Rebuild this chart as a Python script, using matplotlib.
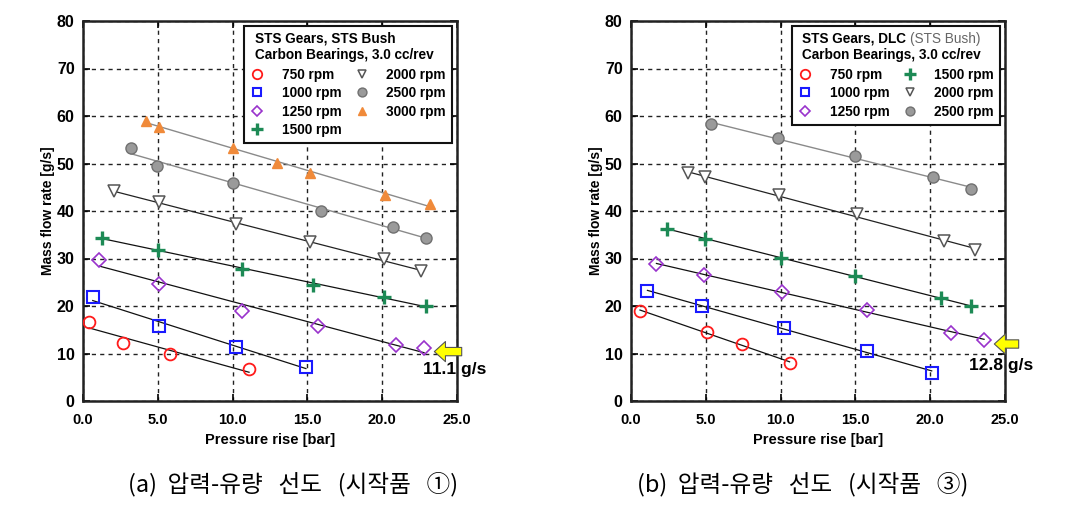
import numpy as np
import matplotlib
matplotlib.use('Agg')
import matplotlib.pyplot as plt

plt.rcParams['font.family'] = ['Liberation Sans', 'DejaVu Sans']

# ---------------- data ----------------
rpm_labels = ['750 rpm', '1000 rpm', '1250 rpm', '1500 rpm', '2000 rpm', '2500 rpm', '3000 rpm']

# Panel (a): STS Gears, STS Bush
a_750_x = [0.4, 2.7, 5.8, 11.1]
a_750_y = [16.7, 12.2, 9.9, 6.7]
a_1000_x = [0.65, 5.1, 10.2, 14.9]
a_1000_y = [21.8, 15.8, 11.4, 7.2]
a_1250_x = [1.1, 5.1, 10.6, 15.7, 20.9, 22.8]
a_1250_y = [29.7, 24.6, 18.9, 15.8, 11.8, 11.1]
a_1500_x = [1.3, 5.0, 10.6, 15.4, 20.1, 22.9]
a_1500_y = [34.4, 31.8, 27.7, 24.4, 22.0, 20.0]
a_2000_x = [2.1, 5.1, 10.2, 15.2, 20.1, 22.6]
a_2000_y = [44.2, 41.8, 37.3, 33.4, 29.8, 27.4]
a_2500_x = [3.2, 4.95, 10.0, 15.9, 20.7, 22.9]
a_2500_y = [53.2, 49.5, 45.8, 40.1, 36.7, 34.4]
a_3000_x = [4.2, 5.1, 10.0, 13.0, 15.2, 20.2, 23.2]
a_3000_y = [59.0, 57.6, 53.3, 50.2, 48.1, 43.4, 41.4]

# Panel (b): STS Gears, DLC (STS Bush)
b_750_x = [0.6, 5.1, 7.4, 10.6]
b_750_y = [18.9, 14.5, 12.1, 7.9]
b_1000_x = [1.1, 4.75, 10.2, 15.8, 20.1]
b_1000_y = [23.2, 19.9, 15.4, 10.5, 6.0]
b_1250_x = [1.7, 4.9, 10.1, 15.75, 21.4, 23.6]
b_1250_y = [28.8, 26.5, 23.0, 19.2, 14.4, 12.8]
b_1500_x = [2.4, 4.95, 10.0, 15.0, 20.7, 22.7]
b_1500_y = [36.2, 34.2, 30.2, 26.3, 21.7, 19.9]
b_2000_x = [3.8, 4.95, 9.9, 15.1, 20.9, 23.0]
b_2000_y = [47.9, 47.2, 43.4, 39.4, 33.7, 31.8]
b_2500_x = [5.35, 9.85, 15.0, 20.2, 22.7]
b_2500_y = [58.3, 55.3, 51.6, 47.1, 44.6]

x_ticks = [0, 5, 10, 15, 20, 25]
x_tick_labels = ['0.0', '5.0', '10.0', '15.0', '20.0', '25.0']
y_ticks = [0, 10, 20, 30, 40, 50, 60, 70, 80]
y_tick_labels = ['0', '10', '20', '30', '40', '50', '60', '70', '80']

a_note_value = 11.1
b_note_value = 12.8

a_title = ['STS Gears, STS Bush', '', 'Carbon Bearings, 3.0 cc/rev']
b_title = ['STS Gears, DLC', '(STS Bush)', 'Carbon Bearings, 3.0 cc/rev']

a_caption = '(a)  압력-유량   선도   (시작품   ①)'
b_caption = '(b)  압력-유량   선도   (시작품   ③)'

# ---------------- styles ----------------
styles = {
    '750 rpm':  dict(marker='o', ms=8.5, mfc='none', mec='#ff1a1a', mew=1.3, line='#111111', lw=0.9),
    '1000 rpm': dict(marker='s', ms=8, mfc='none', mec='#1a1aff', mew=1.5, line='#111111', lw=0.9),
    '1250 rpm': dict(marker='D', ms=7, mfc='none', mec='#9933cc', mew=1.2, line='#111111', lw=0.9),
    '1500 rpm': dict(marker='+', ms=10, mfc='none', mec='#1d8a55', mew=2.4, line='#111111', lw=0.9),
    '2000 rpm': dict(marker='v', ms=8, mfc='white', mec='#555555', mew=1.1, line='#222222', lw=0.9),
    '2500 rpm': dict(marker='o', ms=8, mfc='#9a9a9a', mec='#707070', mew=1.0, line='#8a8a8a', lw=1.0),
    '3000 rpm': dict(marker='^', ms=7.5, mfc='#f08a3a', mec='#f08a3a', mew=1.0, line='#8a8a8a', lw=1.0),
}

fig = plt.figure(figsize=(10.73, 5.16), dpi=100)
fig.patch.set_facecolor('white')

W, H = 1073.0, 516.0
ax_a = fig.add_axes([83 / W, 1 - 401 / H, 374 / W, 380 / H])
ax_b = fig.add_axes([631 / W, 1 - 401 / H, 374 / W, 380 / H])

LEG_FS = 9.8


def setup(ax):
    ax.set_xlim(0, 25)
    ax.set_ylim(0, 80)
    ax.set_xticks(x_ticks)
    ax.set_xticklabels(x_tick_labels)
    ax.set_yticks(y_ticks)
    ax.set_yticklabels(y_tick_labels)
    for lab in ax.get_xticklabels():
        lab.set_fontweight('bold')
        lab.set_fontsize(10.5)
    for lab in ax.get_yticklabels():
        lab.set_fontweight('bold')
        lab.set_fontsize(11.5)
    ax.tick_params(direction='in', length=5, width=1.2, top=True, right=True, pad=6)
    ax.tick_params(axis='x', pad=9)
    ax.grid(True, color='#222222', linestyle=(0, (3, 3)), linewidth=1.0)
    ax.set_axisbelow(True)
    for s in ax.spines.values():
        s.set_linewidth(1.8)
        s.set_color('#222222')
    ax.set_xlabel('Pressure rise [bar]', fontsize=10.5, fontweight='bold', labelpad=4)
    ax.set_ylabel('Mass flow rate [g/s]', fontsize=10, fontweight='bold', labelpad=1)


def plot_series(ax, xs, ys, label):
    st = styles[label]
    xs = np.asarray(xs)
    ys = np.asarray(ys)
    k, b = np.polyfit(xs, ys, 1)
    xl = np.array([xs.min(), xs.max()])
    ax.plot(xl, k * xl + b, color=st['line'], lw=st['lw'], zorder=3)
    ax.plot(xs, ys, linestyle='none', marker=st['marker'], ms=st['ms'],
            mfc=st['mfc'], mec=st['mec'], mew=st['mew'], zorder=4)
    return ax.plot([], [], linestyle='none', marker=st['marker'], ms=st['ms'] * 0.8,
                   mfc=st['mfc'], mec=st['mec'], mew=st['mew'], label=label)[0]


setup(ax_a)
setup(ax_b)

series_a = [(a_750_x, a_750_y), (a_1000_x, a_1000_y), (a_1250_x, a_1250_y),
            (a_1500_x, a_1500_y), (a_2000_x, a_2000_y), (a_2500_x, a_2500_y),
            (a_3000_x, a_3000_y)]
series_b = [(b_750_x, b_750_y), (b_1000_x, b_1000_y), (b_1250_x, b_1250_y),
            (b_1500_x, b_1500_y), (b_2000_x, b_2000_y), (b_2500_x, b_2500_y)]

handles_a = [plot_series(ax_a, x, y, lab) for (x, y), lab in zip(series_a, rpm_labels)]
handles_b = [plot_series(ax_b, x, y, lab) for (x, y), lab in zip(series_b, rpm_labels)]

leg_kw = dict(loc='upper right', ncol=2, frameon=True, fancybox=False,
              edgecolor='#111111', framealpha=1, handlelength=1.0, handletextpad=1.3,
              columnspacing=1.0, labelspacing=0.33, borderpad=0.45, borderaxespad=0.35,
              alignment='left', prop=dict(weight='bold', size=LEG_FS))

legs = []
for ax, hs in ((ax_a, handles_a), (ax_b, handles_b)):
    lg = ax.legend(handles=hs, title=' \n ', **leg_kw)
    lg.get_frame().set_linewidth(1.5)
    lg.get_title().set_fontsize(LEG_FS)
    lg.get_title().set_fontweight('bold')
    lg.get_title().set_linespacing(1.3)
    lg.set_zorder(10)
    legs.append(lg)

# Title lines of the legends drawn as separate texts (mixed styles)
fig.canvas.draw()
renderer = fig.canvas.get_renderer()
for lg, ttl in zip(legs, (a_title, b_title)):
    tb = lg.get_title().get_window_extent(renderer)
    fb = lg.get_frame().get_window_extent(renderer)
    x0 = fb.x0 + 0.45 * LEG_FS * 100 / 72 + 4
    y_top = tb.y1
    line_h = tb.height / 2.0
    t1 = fig.text(x0 / fig.bbox.width, y_top / fig.bbox.height, ttl[0], fontsize=LEG_FS,
                  fontweight='bold', va='top', ha='left', zorder=20)
    if ttl[1]:
        w1 = t1.get_window_extent(renderer).width
        sp = 0.28 * LEG_FS * 100 / 72
        fig.text((x0 + w1 + sp) / fig.bbox.width, y_top / fig.bbox.height, ttl[1],
                 fontsize=LEG_FS, color='#666666', va='top', ha='left', zorder=20)
    fig.text(x0 / fig.bbox.width, (y_top - line_h) / fig.bbox.height, ttl[2], fontsize=LEG_FS,
             fontweight='bold', va='top', ha='left', zorder=20)


def note(ax, val, y_arrow, x_tip, x_tail, x_txt, y_txt):
    ax.annotate('', xy=(x_tip, y_arrow), xytext=(x_tail, y_arrow),
                arrowprops=dict(arrowstyle='simple,head_length=0.8,head_width=1.45,tail_width=0.6',
                                fc='#ffff00', ec='#555555', lw=0.8),
                annotation_clip=False, zorder=12)
    ax.text(x_txt, y_txt, f'{val:.1f} g/s', fontsize=12.5, fontweight='bold',
            ha='left', va='center', clip_on=False, zorder=12)


note(ax_a, a_note_value, 10.4, 23.3, 25.5, 22.7, 6.6)
note(ax_b, b_note_value, 12.0, 24.1, 26.1, 22.6, 7.4)

cap_font = ['Noto Sans CJK KR', 'DejaVu Sans']
fig.text(293 / W, 1 - 484 / H, a_caption, ha='center', va='center',
         fontsize=17, family=cap_font)
fig.text(803 / W, 1 - 484 / H, b_caption, ha='center', va='center',
         fontsize=17, family=cap_font)

fig.savefig('out.png', dpi=100, facecolor='white')
